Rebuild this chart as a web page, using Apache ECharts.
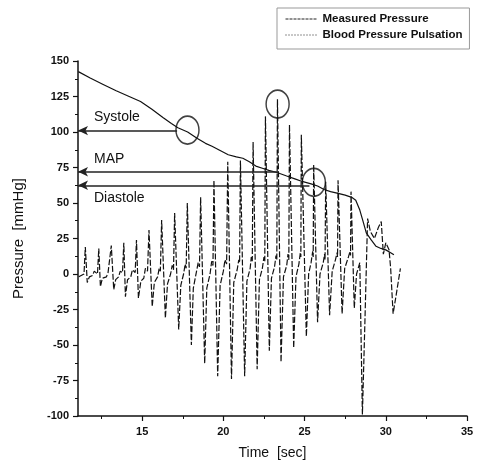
<!DOCTYPE html>
<html>
<head>
<meta charset="utf-8">
<script src="https://cdn.jsdelivr.net/npm/echarts@6/dist/echarts.min.js"></script>
<style>
html,body{margin:0;padding:0;background:#fff;}
#chart{width:480px;height:473px;}
</style>
</head>
<body>
<div id="chart"></div>
<script>
// ---- data ----
const seriesNames = ['Measured Pressure', 'Blood Pressure Pulsation'];

const measuredX = [11.07, 11.8, 12.6, 13.4, 14.2, 14.9, 15.6, 16.3, 16.8, 17.2, 17.8, 18.4, 18.9, 19.3, 19.8, 20.3, 20.8, 21.2, 21.6, 22.0, 22.4, 22.8, 23.3, 23.9, 24.4, 24.9, 25.4, 25.8, 26.2, 26.6, 27.0, 27.5, 27.9, 28.15, 28.4, 28.6, 28.8, 29.1, 29.4, 29.7, 30.0, 30.3, 30.5];
const measuredY = [142.5, 138, 133.5, 129, 125, 121.5, 116, 110, 106, 103, 100, 95.5, 92, 90, 87, 84, 82.5, 81.5, 79, 76, 74.5, 73, 71.5, 69, 67, 65, 63.5, 62, 59.5, 58, 57, 55.5, 54, 52, 45, 37, 29, 24, 19.5, 18, 17, 15, 13.5];

const pulseX = [11.10, 11.42, 11.50, 11.62, 11.75, 11.95, 12.05, 12.25, 12.33, 12.43, 12.55, 12.80, 12.90, 13.02, 13.10, 13.25, 13.37, 13.55, 13.65, 13.79, 13.87, 13.97, 14.10, 14.30, 14.40, 14.57, 14.65, 14.77, 14.92, 15.10, 15.20, 15.33, 15.42, 15.62, 15.75, 15.95, 16.05, 16.12, 16.20, 16.43, 16.56, 16.75, 16.85, 16.93, 17.00, 17.25, 17.38, 17.55, 17.65, 17.71, 17.78, 18.03, 18.15, 18.35, 18.45, 18.53, 18.60, 18.85, 18.98, 19.18, 19.28, 19.36, 19.42, 19.65, 19.80, 20.00, 20.10, 20.20, 20.27, 20.50, 20.64, 20.85, 20.95, 21.00, 21.05, 21.31, 21.45, 21.65, 21.72, 21.78, 21.83, 22.08, 22.22, 22.40, 22.50, 22.55, 22.59, 22.83, 22.96, 23.15, 23.24, 23.29, 23.33, 23.55, 23.70, 23.90, 23.98, 24.03, 24.07, 24.33, 24.47, 24.65, 24.74, 24.77, 24.80, 25.11, 25.25, 25.40, 25.50, 25.53, 25.56, 25.80, 25.95, 26.15, 26.23, 26.26, 26.30, 26.54, 26.70, 26.90, 27.00, 27.03, 27.06, 27.31, 27.47, 27.70, 27.80, 27.83, 27.86, 28.06, 28.20, 28.40, 28.56, 28.70, 28.88, 29.05, 29.30, 29.55, 29.72, 29.85, 30.00, 30.20, 30.30, 30.45, 30.65, 30.90];
const pulseY = [-2, 0, 19, -6, -2, -1, 2, 0, 18, -9, -3, -2, 1, 0, 20, -11, -4, -2, 2, 1, 22, -16, -4, -2, 3, 1, 24, -17, -5, -3, 4, 2, 31, -23, -6, -2, 4, 2, 38, -31, -7, 0, 6, 3, 43, -39, -8, 0, 7, 4, 50, -50, -10, 2, 8, 5, 54, -63, -10, 0, 9, 6, 66, -72, -8, 2, 10, 7, 79, -74, -6, 3, 10, 8, 80, -72, -5, 4, 12, 9, 93, -67, -4, 4, 12, 9, 111, -54, -3, 5, 13, 10, 123, -62, -2, 6, 14, 10, 105, -52, -2, 7, 15, 12, 98, -44, 0, 8, 16, 12, 77, -34, 0, 8, 14, 10, 65, -29, 2, 10, 15, 12, 66, -28, 4, 12, 16, 13, 58, -24, 0, 8, -99, -40, 39, 30, 25, 33, 37, 14, 22, 17, 4, -28, -14, 4];

// annotations
const annotNames = ['Systole', 'MAP', 'Diastole'];
const annotValues = [101, 72, 62.5];
const annotEndX = [17.15, 23.4, 25.3];
const circleX = [17.79, 23.34, 25.57];
const circleY = [101.4, 119.7, 64.6];

// axes
const xMin = 11.05, xMax = 35;
const xMajorTicks = [15, 20, 25, 30, 35];
const xMinorTicks = [12.5, 17.5, 22.5, 27.5, 32.5];
const yMin = -100, yMax = 150, yStep = 25;

// ---- chart ----
const font = "'Liberation Sans', Arial, sans-serif";
const zip = (a, b) => a.map((v, i) => [v, b[i]]);

const annotLabelPos = ['insideStartTop', 'insideStartTop', 'insideStartBottom'];
const markData = annotNames.map((n, i) => [
  { coord: [xMin, annotValues[i]], symbol: 'arrow', symbolSize: [7, 10],
    label: { show: true, formatter: n, position: annotLabelPos[i] } },
  { coord: [annotEndX[i], annotValues[i]], symbol: 'none' }
]);

const chart = echarts.init(document.getElementById('chart'), null, { renderer: 'canvas' });
chart.setOption({
  animation: false,
  backgroundColor: '#fff',
  textStyle: { fontFamily: font },
  grid: { left: 78, right: 13, top: 61, bottom: 57, containLabel: false, outerBoundsMode: 'none' },
  legend: {
    show: true,
    orient: 'vertical',
    left: 277, top: 8,
    padding: [5, 7, 8, 8],
    itemGap: 4,
    itemWidth: 32, itemHeight: 10,
    borderColor: '#999', borderWidth: 1,
    textStyle: { fontFamily: font, fontSize: 11.5, fontWeight: 'bold', color: '#111' },
    data: [
      { name: seriesNames[0], itemStyle: { opacity: 0 }, lineStyle: { type: [3, 1], width: 1, color: '#222' } },
      { name: seriesNames[1], itemStyle: { opacity: 0 }, lineStyle: { type: [1, 2], width: 1, color: '#222' } }
    ]
  },
  xAxis: [{
    type: 'value', min: xMin, max: xMax,
    name: 'Time  [sec]', nameLocation: 'middle', nameGap: 30,
    nameTextStyle: { fontFamily: font, fontSize: 14, color: '#111' },
    axisLine: { onZero: false, lineStyle: { color: '#111', width: 1.5 } },
    axisTick: { show: true, customValues: xMajorTicks, length: 5, lineStyle: { color: '#111', width: 1.2 } },
    axisLabel: { customValues: xMajorTicks, margin: 10, fontFamily: font, fontSize: 11, fontWeight: 'bold', color: '#111' },
    splitLine: { show: false }
  }, {
    type: 'value', min: xMin, max: xMax, position: 'bottom',
    axisLine: { show: false, onZero: false },
    axisTick: { show: true, customValues: xMinorTicks, length: 3, lineStyle: { color: '#111', width: 1 } },
    axisLabel: { show: false },
    splitLine: { show: false }
  }],
  yAxis: {
    type: 'value', min: yMin, max: yMax, interval: yStep,
    name: 'Pressure  [mmHg]', nameLocation: 'middle', nameGap: 52, nameRotate: 90,
    nameTextStyle: { fontFamily: font, fontSize: 15, color: '#111' },
    axisLine: { show: true, onZero: false, lineStyle: { color: '#111', width: 1.5 } },
    axisTick: { show: true, length: 5, lineStyle: { color: '#111', width: 1.2 } },
    minorTick: { show: true, splitNumber: 2, length: 3, lineStyle: { color: '#111', width: 1 } },
    axisLabel: { margin: 9, fontFamily: font, fontSize: 11, fontWeight: 'bold', color: '#111' },
    splitLine: { show: false }
  },
  series: [
    {
      name: seriesNames[1], type: 'line', symbol: 'none', xAxisIndex: 0,
      data: zip(pulseX, pulseY),
      lineStyle: { color: '#111', width: 1.2, type: [6, 2] },
      itemStyle: { color: '#111' },
      z: 2
    },
    {
      name: seriesNames[0], type: 'line', symbol: 'none', xAxisIndex: 0,
      data: zip(measuredX, measuredY),
      lineStyle: { color: '#111', width: 1.2, type: 'solid' },
      itemStyle: { color: '#111' },
      z: 3,
      markLine: {
        silent: true, animation: false,
        lineStyle: { color: '#222', width: 1.6, type: 'solid' },
        itemStyle: { color: '#555' },
        label: { fontFamily: font, fontSize: 14, color: '#111', distance: [16, 6] },
        emphasis: { disabled: true },
        data: markData
      }
    },
    {
      name: 'circles', type: 'scatter', xAxisIndex: 0,
      data: zip(circleX, circleY),
      symbol: 'circle', symbolSize: [23, 28],
      itemStyle: { color: 'rgba(0,0,0,0)', borderColor: '#111', borderWidth: 1.6 },
      silent: true, z: 4
    }
  ]
});
</script>
</body>
</html>
